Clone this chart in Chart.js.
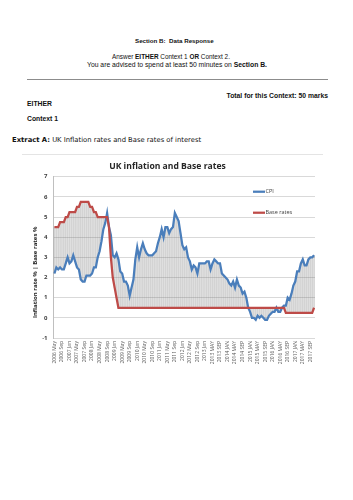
<!DOCTYPE html>
<html>
<head>
<meta charset="utf-8">
<script src="https://cdn.jsdelivr.net/npm/chart.js@4.4.0/dist/chart.umd.min.js"></script>
<style>
  body { margin: 0; width: 353px; height: 500px; background: #fff; position: relative; overflow: hidden; }
  .t { position: absolute; font-family: 'Liberation Sans', Arial, sans-serif; font-size: 6.8px; line-height: 8px; color: #111; white-space: nowrap; }
  .b { font-weight: bold; }
  .rule { position: absolute; height: 1px; }
  #chartBox { position: absolute; left: 0; top: 155px; }
</style>
</head>
<body>
<div class="t b" style="left:135px; top:37px; font-size:6.2px;">Section B:&nbsp; Data Response</div>
<div class="t" style="left:112px; top:53px; font-size:6.4px;">Answer <b>EITHER</b> Context 1 <b>OR</b> Context 2.</div>
<div class="t" style="left:87px; top:61px;">You are advised to spend at least 50 minutes on <b>Section B.</b></div>
<div class="rule" style="left:27px; top:79px; width:301px; background:#8c8c8c;"></div>
<div class="t b" style="right:25px; top:92px;">Total for this Context: 50 marks</div>
<div class="t b" style="left:27px; top:100px;">EITHER</div>
<div class="t b" style="left:27px; top:115px;">Context 1</div>
<div class="t" style="left:12px; top:136px; font-family:'DejaVu Sans', sans-serif;"><b>Extract A:</b> UK Inflation rates and Base rates of interest</div>
<div class="rule" style="left:22px; top:154px; width:301px; background:#e4e4e4;"></div>

<canvas id="chartBox" width="353" height="230"></canvas>

<script>
// ==== Data: monthly, 2006 May -> 2017 Nov ====
var tickLabels = [
  '2006 May', '2006 Sep', '2007 Jan', '2007 May', '2007 Sep', '2008 Jan', '2008 May', '2008 Sep',
  '2009 Jan', '2009 May', '2009 Sep', '2010 Jan', '2010 May', '2010 Sep', '2011 Jan', '2011 May',
  '2011 Sep', '2012 Jan', '2012 May', '2012 Sep', '2013 Jan', '2013 MAY', '2013 SEP', '2014 JAN',
  '2014 MAY', '2014 SEP', '2015 JAN', '2015 MAY', '2015 SEP', '2016 JAN', '2016 MAY', '2016 SEP',
  '2017 JAN', '2017 MAY', '2017 SEP'
]

var cpi = [
  2.2, 2.5, 2.4, 2.5, 2.4, 2.4, 2.7, 3.0,                      // 2006 May-Dec
  2.7, 2.8, 3.1, 2.8, 2.5, 2.4, 1.9, 1.8, 1.8, 2.1, 2.1, 2.1,  // 2007
  2.2, 2.5, 2.5, 3.0, 3.3, 3.8, 4.4, 4.7, 5.2, 4.5, 4.1, 3.1,  // 2008
  3.0, 3.2, 2.9, 2.3, 2.2, 1.8, 1.8, 1.6, 1.1, 1.5, 1.9, 2.9,  // 2009
  3.5, 3.0, 3.4, 3.7, 3.4, 3.2, 3.1, 3.1, 3.1, 3.2, 3.3, 3.7,  // 2010
  4.0, 4.4, 4.0, 4.5, 4.5, 4.2, 4.4, 4.5, 5.2, 5.0, 4.8, 4.2,  // 2011
  3.6, 3.4, 3.5, 3.0, 2.8, 2.4, 2.6, 2.5, 2.2, 2.7, 2.7, 2.7,  // 2012
  2.7, 2.8, 2.8, 2.4, 2.7, 2.9, 2.8, 2.7, 2.7, 2.2, 2.1, 2.0,  // 2013
  1.9, 1.7, 1.6, 1.8, 1.5, 1.9, 1.6, 1.5, 1.2, 1.3, 1.0, 0.5,  // 2014
  0.3, 0.0, 0.0, -0.1, 0.1, 0.0, 0.1, 0.0, -0.1, -0.1, 0.1, 0.2, // 2015
  0.3, 0.3, 0.5, 0.3, 0.3, 0.5, 0.6, 0.6, 1.0, 0.9, 1.2, 1.6,  // 2016
  1.8, 2.3, 2.3, 2.7, 2.9, 2.6, 2.6, 2.9, 3.0, 3.0, 3.1        // 2017 Jan-Nov
]

var baseRate = [
  4.5, 4.5, 4.5, 4.75, 4.75, 4.75, 5.0, 5.0,                         // 2006 May-Dec
  5.25, 5.25, 5.25, 5.25, 5.5, 5.5, 5.75, 5.75, 5.75, 5.75, 5.75, 5.5, // 2007
  5.5, 5.25, 5.25, 5.0, 5.0, 5.0, 5.0, 5.0, 5.0, 4.5, 3.0, 2.0,      // 2008
  1.5, 1.0, 0.5, 0.5, 0.5, 0.5, 0.5, 0.5, 0.5, 0.5, 0.5, 0.5,        // 2009
  0.5, 0.5, 0.5, 0.5, 0.5, 0.5, 0.5, 0.5, 0.5, 0.5, 0.5, 0.5,        // 2010
  0.5, 0.5, 0.5, 0.5, 0.5, 0.5, 0.5, 0.5, 0.5, 0.5, 0.5, 0.5,        // 2011
  0.5, 0.5, 0.5, 0.5, 0.5, 0.5, 0.5, 0.5, 0.5, 0.5, 0.5, 0.5,        // 2012
  0.5, 0.5, 0.5, 0.5, 0.5, 0.5, 0.5, 0.5, 0.5, 0.5, 0.5, 0.5,        // 2013
  0.5, 0.5, 0.5, 0.5, 0.5, 0.5, 0.5, 0.5, 0.5, 0.5, 0.5, 0.5,        // 2014
  0.5, 0.5, 0.5, 0.5, 0.5, 0.5, 0.5, 0.5, 0.5, 0.5, 0.5, 0.5,        // 2015
  0.5, 0.5, 0.5, 0.5, 0.5, 0.5, 0.5, 0.25, 0.25, 0.25, 0.25, 0.25,   // 2016
  0.25, 0.25, 0.25, 0.25, 0.25, 0.25, 0.25, 0.25, 0.25, 0.25, 0.5    // 2017 Jan-Nov
]

// one category per month, only every 4th one gets a label
var labels = cpi.map(function(v, i) { return i % 4 === 0 ? tickLabels[i / 4] : '' })

// high-low lines between the two series
var gapBars = cpi.map(function(v, i) { return [Math.min(v, baseRate[i]), Math.max(v, baseRate[i])] })

Chart.defaults.font.family = "'Open Sans', sans-serif"

// legend drawn inside the plot, stacked like the Excel one
var insideLegend = {
  id: 'insideLegend',
  afterDraw: function(chart) {
    var c = chart.ctx, a = chart.chartArea
    var items = chart.data.datasets.filter(function(d) { return d.type === 'line' })
    c.save()
    c.font = "5.5px 'Open Sans', sans-serif"
    c.textBaseline = 'middle'
    items.forEach(function(d, i) {
      var y = a.top + 15 + i * 21
      var x = a.right - 62
      c.strokeStyle = d.borderColor
      c.lineWidth = 2.25
      c.beginPath(); c.moveTo(x, y); c.lineTo(x + 12, y); c.stroke()
      c.fillStyle = '#404040'
      c.fillText(d.label, x + 12.5, y)
    })
    c.restore()
  }
}

// y axis title, sitting a bit below the plot centre as in the picture
var yTitle = {
  id: 'yTitle',
  afterDraw: function(chart) {
    var c = chart.ctx, a = chart.chartArea
    c.save()
    c.translate(a.left - 18.5, (a.top + a.bottom) / 2 + 15)
    c.rotate(-Math.PI / 2)
    c.font = "bold 6px 'Open Sans', sans-serif"
    c.fillStyle = '#262626'
    c.textAlign = 'center'
    c.textBaseline = 'middle'
    c.fillText('Inflation rate % | Base rates %', 0, 0)
    c.restore()
  }
}

var ctx = document.getElementById('chartBox').getContext('2d')
new Chart(ctx, {
  data: {
    labels: labels,
    datasets: [
      { type: 'line', label: 'CPI', data: cpi, borderColor: '#4a7ebb', borderWidth: 2.25, pointRadius: 0, order: 2 },
      { type: 'line', label: 'Base rates', data: baseRate, borderColor: '#be4b48', borderWidth: 2.25, pointRadius: 0, order: 1 },
      { type: 'bar', label: 'gap', data: gapBars, backgroundColor: 'rgba(110,110,110,0.3)', barThickness: 1, order: 3 }
    ]
  },
  options: {
    responsive: false,
    animation: false,
    layout: { padding: { left: 20, right: 38, top: 0, bottom: 17 } },
    plugins: {
      legend: { display: false },
      tooltip: { enabled: false },
      title: {
        display: true,
        text: 'UK inflation and Base rates',
        color: '#262626',
        font: { size: 8.6, weight: 'bold' },
        padding: { top: 6.8, bottom: 4.6 }
      }
    },
    scales: {
      x: {
        grid: { display: false, drawTicks: false },
        border: { display: false },
        ticks: {
          autoSkip: false, maxRotation: 90, minRotation: 90, padding: 3,
          font: { size: 5 }, color: '#595959'
        },
        afterFit: function(s) { s.height = 30 }
      },
      y: {
        min: -1, max: 7,
        ticks: { stepSize: 1, padding: 6, font: { size: 6, weight: 'bold' }, color: '#404040' },
        grid: { color: '#d9d9d9', drawTicks: false },
        border: { color: '#bfbfbf' },
        afterFit: function(s) { s.width = 33.5 }
      }
    }
  },
  plugins: [insideLegend, yTitle]
})
</script>
</body>
</html>
